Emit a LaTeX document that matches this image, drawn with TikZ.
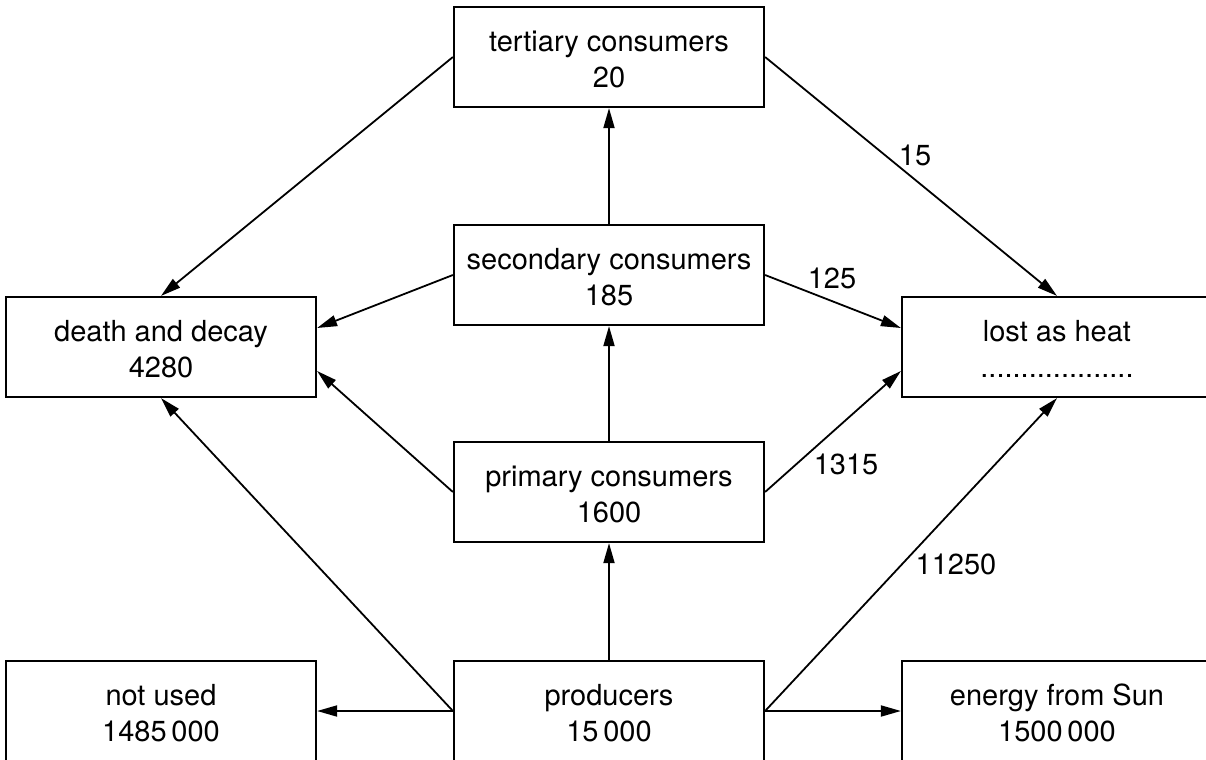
\documentclass[tikz,border=0pt]{standalone}
\usepackage{fontspec}
\setmainfont{TeX Gyre Heros}
\usetikzlibrary{arrows.meta}
\begin{document}
\begin{tikzpicture}[x=0.5pt,y=-0.5pt,
  box/.style={draw, line width=1.1pt, minimum width=155pt, minimum height=50pt,
    inner sep=0pt, align=center, font=\fontsize{14.5pt}{18pt}\selectfont,
    text height=30.7pt, text depth=0pt},
  flow/.style={line width=0.9pt, -{Triangle[length=10pt,width=5.5pt]}},
  lbl/.style={font=\fontsize{14.5pt}{18pt}\selectfont, inner sep=0pt}]
\useasboundingbox (0,0) rectangle (1206,760);
\node[box] (tert) at (609,57) {tertiary consumers\\20};
\node[box] (sec) at (609,275) {secondary consumers\\185};
\node[box] (prim) at (609,492) {primary consumers\\1600};
\node[box] (prod) at (609,711) {producers\\15\,000};
\node[box] (death) at (161,347) {death and decay\\4280};
\node[box] (heat) at (1057,347) {lost as heat\\...................};
\node[box] (notused) at (161,711) {not used\\1485\,000};
\node[box] (sun) at (1057,711) {energy from Sun\\1500\,000};
\draw[flow] (sec) -- (tert);
\draw[flow] (prim) -- (sec);
\draw[flow] (prod) -- (prim);
\draw[flow] (tert.west) -- (death.north);
\draw[flow] (tert.east) -- (heat.north);
\draw[flow] (sec.west) -- ([yshift=9.5pt]death.east);
\draw[flow] (sec.east) -- ([yshift=9.5pt]heat.west);
\draw[flow] (prim.west) -- ([yshift=-12pt]death.east);
\draw[flow] (prim.east) -- ([yshift=-12pt]heat.west);
\draw[flow] (prod.west) -- (death.south);
\draw[flow] (prod.east) -- (heat.south);
\draw[flow] (prod.west) -- (notused.east);
\draw[flow] (prod.east) -- (sun.west);
\node[lbl] (l15) at (915,155) {15};
\node[lbl] (l125) at (832,278) {125};
\node[lbl] (l1315) at (846,464) {1315};
\node[lbl] (l11250) at (956,564) {11250};
\end{tikzpicture}
\end{document}
